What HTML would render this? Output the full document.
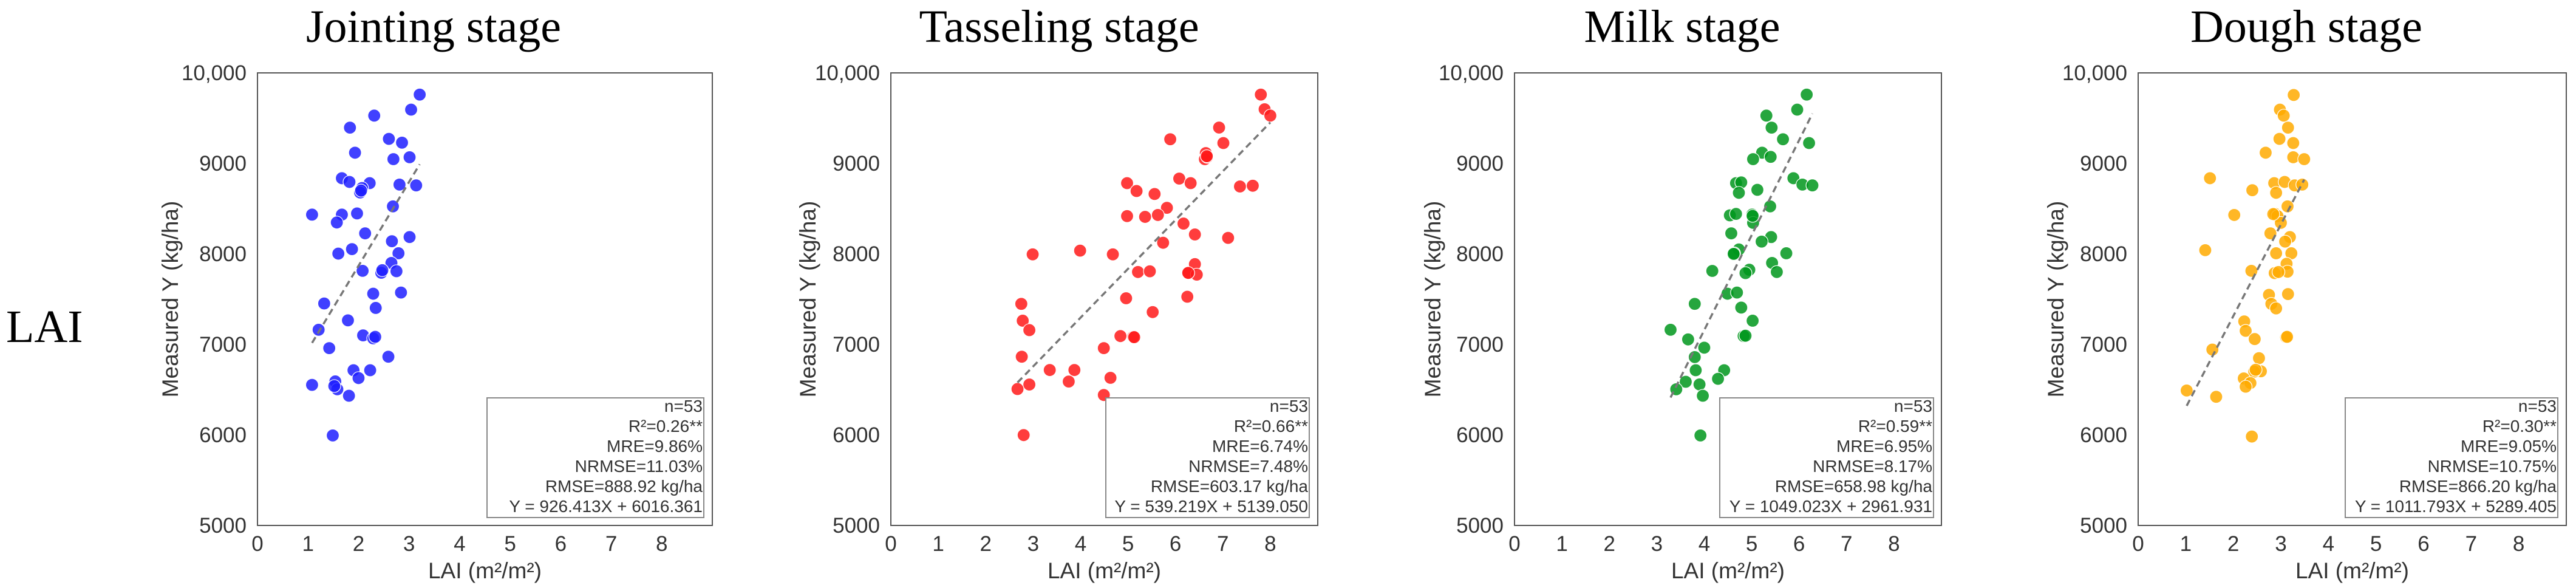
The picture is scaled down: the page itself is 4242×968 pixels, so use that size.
<!DOCTYPE html>
<html><head><meta charset="utf-8"><style>
html,body{margin:0;padding:0;background:#fff;}
svg{display:block;}
</style></head><body>
<svg id="fig" width="4242" height="968" viewBox="0 0 4242 968" xmlns="http://www.w3.org/2000/svg">
<text x="10" y="563" font-family="Liberation Serif, serif" font-size="76" fill="#000">LAI</text>
</svg>
<script>
const yTicks = [5000, 6000, 7000, 8000, 9000, 10000];
const yTickLabels = ["5000", "6000", "7000", "8000", "9000", "10,000"];
const xTicks = [0, 1, 2, 3, 4, 5, 6, 7, 8];

const jointingX = [1.08,3.21,3.04,2.31,1.83,2.60,2.86,1.93,2.69,3.01,1.67,1.82,2.22,2.07,2.03,2.81,3.14,2.68,1.67,1.97,1.57,2.13,3.01,2.66,1.87,1.60,2.79,2.65,2.08,2.45,2.75,2.29,2.84,1.32,2.34,1.21,1.79,2.09,2.29,2.33,1.42,2.59,1.90,2.23,2.00,1.54,1.58,1.08,1.81,1.49,1.52,2.05,2.47];
const jointingY = [8434,9760,9594,9528,9395,9271,9229,9118,9047,9068,8836,8795,8782,8728,8679,8766,8757,8525,8434,8447,8347,8227,8186,8140,8053,8003,8007,7900,7813,7792,7809,7560,7573,7452,7403,7162,7266,7100,7067,7084,6959,6864,6715,6715,6628,6591,6504,6553,6433,5994,6540,8700,7820];

const tasselingX = [7.80,7.88,8.00,6.92,7.01,5.89,6.64,6.62,6.67,6.08,6.32,4.98,5.18,5.56,7.36,7.63,5.82,4.98,5.36,5.63,6.17,6.41,7.11,5.74,2.99,3.99,4.68,5.21,5.46,6.41,6.26,6.45,4.96,6.25,5.52,2.75,2.78,2.92,4.84,5.11,4.49,2.76,3.35,3.87,3.75,4.63,2.92,2.67,4.49,2.80,5.13,6.66,6.27];
const tasselingY = [9760,9598,9528,9396,9225,9267,9114,9047,9072,8832,8782,8782,8695,8662,8745,8753,8509,8418,8409,8430,8335,8215,8177,8123,7995,8036,7995,7800,7808,7887,7788,7771,7510,7527,7357,7448,7262,7158,7092,7084,6959,6864,6717,6717,6590,6631,6557,6507,6441,5998,7080,9080,7790];

const milkX = [6.16,5.96,5.31,5.42,5.66,6.21,5.22,5.03,5.40,5.88,6.07,6.28,4.67,4.78,5.12,4.73,5.39,4.54,4.67,5.01,5.03,4.57,5.41,5.21,4.73,4.63,5.73,4.17,4.95,4.87,5.43,5.53,4.49,4.69,3.80,4.78,5.02,3.29,3.66,4.83,4.87,4.00,3.80,3.82,4.42,4.29,3.61,3.90,3.41,3.97,3.92,4.62,5.02];
const milkY = [9760,9594,9528,9395,9267,9225,9118,9047,9072,8836,8766,8757,8782,8790,8708,8675,8525,8426,8442,8434,8343,8227,8186,8136,8049,8007,8007,7812,7825,7788,7900,7800,7560,7573,7448,7407,7262,7162,7055,7092,7096,6964,6860,6715,6715,6620,6587,6558,6504,6433,5994,8000,8420];

const doughX = [3.27,2.98,3.06,3.15,2.97,3.26,2.68,3.26,3.49,1.51,2.86,3.08,3.29,3.45,2.40,2.90,3.14,2.02,2.88,2.93,3.00,2.78,3.19,3.09,1.41,2.90,3.22,2.38,2.87,3.12,3.14,2.75,3.15,2.80,2.90,2.23,2.26,2.45,3.11,3.13,1.56,2.54,2.58,2.44,2.22,2.36,2.26,1.02,1.64,2.39,2.47,2.95,2.84];
const doughY = [9756,9594,9528,9395,9271,9225,9118,9068,9047,8836,8782,8795,8757,8766,8704,8675,8525,8430,8442,8418,8343,8227,8186,8136,8041,8007,8007,7813,7788,7891,7804,7548,7556,7448,7398,7254,7150,7059,7080,7084,6943,6848,6703,6700,6624,6574,6533,6491,6421,5982,6720,7800,8440];

const slopes = [926.413, 539.219, 1049.023, 1011.793];
const intercepts = [6016.361, 5139.050, 2961.931, 5289.405];
const statLines = [
  ["n=53","R²=0.26**","MRE=9.86%","NRMSE=11.03%","RMSE=888.92 kg/ha","Y = 926.413X + 6016.361"],
  ["n=53","R²=0.66**","MRE=6.74%","NRMSE=7.48%","RMSE=603.17 kg/ha","Y = 539.219X + 5139.050"],
  ["n=53","R²=0.59**","MRE=6.95%","NRMSE=8.17%","RMSE=658.98 kg/ha","Y = 1049.023X + 2961.931"],
  ["n=53","R²=0.30**","MRE=9.05%","NRMSE=10.75%","RMSE=866.20 kg/ha","Y = 1011.793X + 5289.405"]
];
const titles = ["Jointing stage","Tasseling stage","Milk stage","Dough stage"];

const NS = "http://www.w3.org/2000/svg";
const svg = document.getElementById("fig");
function mk(tag, attrs, parent){
  const e = document.createElementNS(NS, tag);
  for (const k in attrs) e.setAttribute(k, attrs[k]);
  (parent||svg).appendChild(e);
  return e;
}
const layout = [
  {l:424, r:1173, boxL:802, boxR:1159, title:714, ylab:281, color:"#1f1fff", xs:jointingX, ys:jointingY, key:"jointing"},
  {l:1467, r:2170, boxL:1821, boxR:2156, title:1744, ylab:1331, color:"#ff1a1a", xs:tasselingX, ys:tasselingY, key:"tasseling"},
  {l:2494, r:3197, boxL:2832, boxR:3184, title:2770, ylab:2360, color:"#00961c", xs:milkX, ys:milkY, key:"milk"},
  {l:3521, r:4226, boxL:3862, boxR:4212, title:3798, ylab:3386, color:"#ffaa00", xs:doughX, ys:doughY, key:"dough"}
];
const TOP = 120, BOT = 865, YMIN = 5000, YMAX = 10000, XMAX = 9;

layout.forEach((p, i) => {
  const g = mk("g", {});
  
  
  const sx = v => p.l + (p.r - p.l) * v / XMAX;
  const sy = v => BOT - (BOT - TOP) * (v - YMIN) / (YMAX - YMIN);

  const t = mk("text", {x:p.title, y:69, "text-anchor":"middle", "font-family":"Liberation Serif, serif", "font-size":"76", fill:"#000"}, g);
  t.textContent = titles[i];
  
  

  // y ticks
  yTicks.forEach((v, j) => {
    const tx = mk("text", {x:p.l - 18, y:sy(v) + 12, "text-anchor":"end", "font-family":"Liberation Sans, sans-serif", "font-size":"35", fill:"#333"}, g);
    tx.textContent = yTickLabels[j];
    
    
  });
  xTicks.forEach(v => {
    const tx = mk("text", {x:sx(v), y:907, "text-anchor":"middle", "font-family":"Liberation Sans, sans-serif", "font-size":"35", fill:"#333"}, g);
    tx.textContent = String(v);
    
    
  });
  const yl = mk("text", {x:0, y:0, transform:`translate(${p.ylab + 12},${(TOP+BOT)/2}) rotate(-90)`, "text-anchor":"middle", "font-family":"Liberation Sans, sans-serif", "font-size":"37", fill:"#333"}, g);
  yl.textContent = "Measured Y (kg/ha)";
  
  
  const xl = mk("text", {x:(p.l+p.r)/2, y:952, "text-anchor":"middle", "font-family":"Liberation Sans, sans-serif", "font-size":"37", fill:"#333"}, g);
  xl.textContent = "LAI (m²/m²)";
  
  

  // points
  p.xs.forEach((x, k) => {
    const c = mk("circle", {cx:sx(x), cy:sy(p.ys[k]), r:10.5, fill:p.color, "fill-opacity":"0.85", stroke:"#fff", "stroke-width":"1.2"}, g);
    
    
  });
  // fit line
  const x0 = Math.min(...p.xs), x1 = Math.max(...p.xs);
  const ln = mk("line", {x1:sx(x0), y1:sy(slopes[i]*x0+intercepts[i]), x2:sx(x1), y2:sy(slopes[i]*x1+intercepts[i]), stroke:"#777", "stroke-width":"3.5", "stroke-dasharray":"11 7"}, g);
  
  

  // frame
  const fr = mk("rect", {x:p.l, y:TOP, width:p.r-p.l, height:BOT-TOP, fill:"none", stroke:"#555", "stroke-width":"2"}, g);
  
  

  // stats box
  const bx = mk("rect", {x:p.boxL, y:655, width:p.boxR-p.boxL, height:197, fill:"#fff", stroke:"#888", "stroke-width":"2"}, g);
  
  
  statLines[i].forEach((s, k) => {
    const st = mk("text", {x:p.boxR - 2, y:678 + 33*k, "text-anchor":"end", "font-family":"Liberation Sans, sans-serif", "font-size":"28", fill:"#333"}, g);
    st.textContent = s;
    
    
  });
});
</script>
</body></html>
